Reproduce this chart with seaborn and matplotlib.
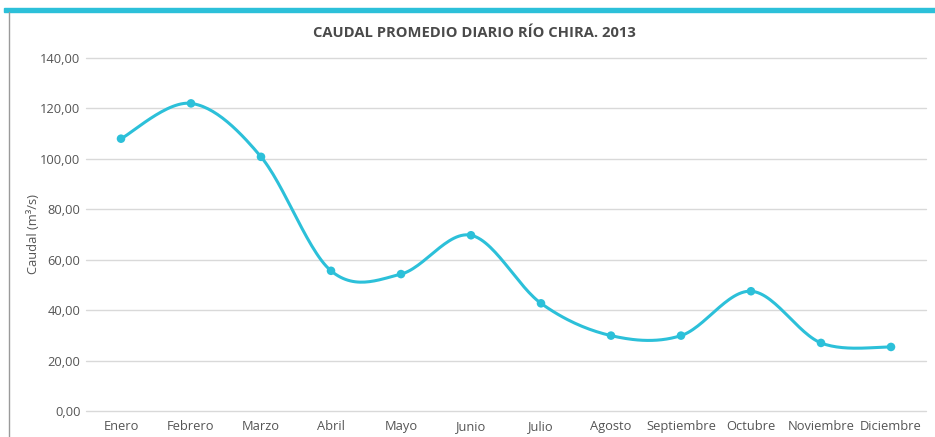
import numpy as np
import pandas as pd
import matplotlib
matplotlib.use("Agg")
import matplotlib.pyplot as plt
import seaborn as sns
from matplotlib.patches import Rectangle
from matplotlib.lines import Line2D
from matplotlib.ticker import FuncFormatter

months = ["Enero", "Febrero", "Marzo", "Abril", "Mayo", "Junio", "Julio",
          "Agosto", "Septiembre", "Octubre", "Noviembre", "Diciembre"]
caudal = [108.0, 122.0, 100.8, 55.6, 54.3, 69.7, 42.7, 29.9, 29.9, 47.5, 27.0, 25.4]
y_ticks = [0, 20, 40, 60, 80, 100, 120, 140]

title = "CAUDAL PROMEDIO DIARIO RÍO CHIRA. 2013"
ylabel = "Caudal (m³/s)"

LINE = "#2cc0d9"
TEXT = "#555555"

sns.set_theme(style="white")
plt.rcParams["font.family"] = ["Open Sans", "DejaVu Sans"]

df = pd.DataFrame({"mes": months, "caudal": caudal})
df["pos"] = np.arange(len(df))

# smoothed (Catmull-Rom / Bezier) rendering of the line between data points
def smooth(xs, ys, n=30):
    xs = np.asarray(xs, float); ys = np.asarray(ys, float)
    px = np.concatenate([[xs[0]], xs, [xs[-1]]])
    py = np.concatenate([[ys[0]], ys, [ys[-1]]])
    ox, oy = [], []
    t = np.linspace(0, 1, n)
    for i in range(1, len(px) - 2):
        p0 = np.array([px[i], py[i]]); p3 = np.array([px[i + 1], py[i + 1]])
        p1 = p0 + (np.array([px[i + 1], py[i + 1]]) - np.array([px[i - 1], py[i - 1]])) / 6
        p2 = p3 - (np.array([px[i + 2], py[i + 2]]) - np.array([px[i], py[i]])) / 6
        b = ((1 - t) ** 3)[:, None] * p0 + (3 * (1 - t) ** 2 * t)[:, None] * p1 \
            + (3 * (1 - t) * t ** 2)[:, None] * p2 + (t ** 3)[:, None] * p3
        ox.extend(b[:, 0]); oy.extend(b[:, 1])
    return np.array(ox), np.array(oy)

fig = plt.figure(figsize=(9.35, 4.37), dpi=100)
ax = fig.add_axes([86 / 935, 1 - 411 / 437, 840 / 935, 353 / 437])

sx, sy = smooth(df["pos"], df["caudal"])
sm = pd.DataFrame({"x": sx, "y": sy})
sns.lineplot(data=sm, x="x", y="y", ax=ax, color=LINE, linewidth=2.2,
             sort=False, estimator=None, zorder=3)
sns.scatterplot(data=df, x="pos", y="caudal", ax=ax, color=LINE, s=38,
                edgecolor="none", zorder=4)

ax.set_xlim(-0.5, len(months) - 0.5)
ax.set_ylim(0, 140)
ax.set_yticks(y_ticks)
ax.yaxis.set_major_formatter(FuncFormatter(lambda v, p: f"{v:.2f}".replace(".", ",")))
ax.set_xticks(df["pos"])
ax.set_xticklabels(months)
ax.tick_params(axis="both", length=0, labelsize=9.3, colors=TEXT, pad=4)
ax.tick_params(axis="x", pad=14)
for lbl in ax.get_xticklabels():
    lbl.set_verticalalignment("baseline")
ax.grid(axis="y", color="#d9d9d9", linewidth=1)
ax.grid(axis="x", visible=False)
for gl in ax.yaxis.get_gridlines():
    gl.set_clip_on(False)
for s in ax.spines.values():
    s.set_visible(False)
ax.set_xlabel("")
ax.set_ylabel(ylabel, color=TEXT, fontsize=9.3)
ax.yaxis.set_label_coords(-46 / 840, 0.5)

fig.text(474 / 935, 1 - 33 / 437, title, ha="center", va="center",
         fontsize=10.6, fontweight="bold", color="#4a4a4a")

# decorative frame: top cyan bar and left grey rule
fig.patches.append(Rectangle((4 / 935, 1 - 12 / 437), 931 / 935, 4 / 437,
                             transform=fig.transFigure, color=LINE, zorder=0))
fig.lines.append(Line2D([8.5 / 935, 8.5 / 935], [0, 1 - 12 / 437],
                        transform=fig.transFigure, color="#9a9a9a", linewidth=1))

fig.savefig("out.png", dpi=100)
